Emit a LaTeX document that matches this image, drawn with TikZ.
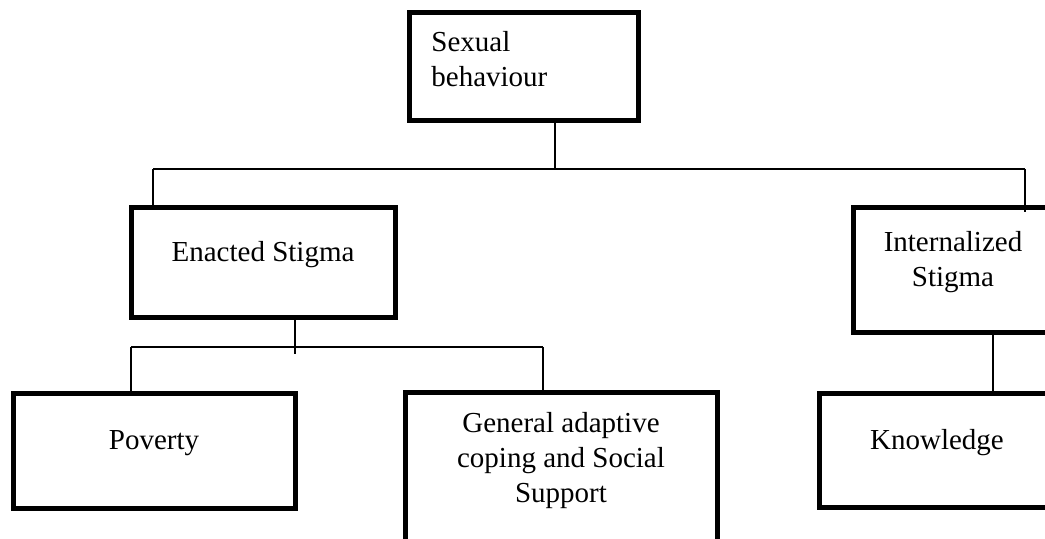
\documentclass[tikz,border=0pt]{standalone}
\usepackage{fontspec}
\setmainfont{Liberation Serif}
\usetikzlibrary{positioning}
\tikzset{
    %Define style for boxes
    stigbox/.style={
             rectangle,
             draw=black, line width=2.5pt,
             inner sep=0pt},
    %Define style for box texts
    boxtext/.style={
             inner sep=0pt,
             font=\fontsize{14.5}{17.5}\selectfont},
    % Define connector style
    link/.style={
            draw=black,
            line width=1.1pt}
}
\begin{document}
\begin{tikzpicture}[x=0.5pt, y=-0.5pt]
 \useasboundingbox (0,0) rectangle (1045,539);
 \clip (0,0) rectangle (1045,539);
 % boxes
 \node[stigbox, minimum width=114.5pt, minimum height=54pt] (sex) at (523.5,67) {};
 \node[stigbox, minimum width=132pt, minimum height=55pt] (enacted) at (263,263) {};
 \node[stigbox, minimum width=100pt, minimum height=62.5pt] (internal) at (953,270.5) {};
 \node[stigbox, minimum width=141pt, minimum height=57.5pt] (poverty) at (154,451.5) {};
 \node[stigbox, minimum width=156pt, minimum height=83.5pt] (coping) at (561,476.5) {};
 \node[stigbox, minimum width=118pt, minimum height=57pt] (knowledge) at (937,451) {};
 % texts (base = last line)
 \node[boxtext, anchor=base west, align=left] (sextext) at (431,87) {Sexual\\behaviour};
 \node[boxtext, anchor=base] (enactedtext) at (263,262) {Enacted Stigma};
 \node[boxtext, anchor=base, align=center] (internaltext) at (953,287) {Internalized\\Stigma};
 \node[boxtext, anchor=base] (povertytext) at (154,450) {Poverty};
 \node[boxtext, anchor=base, align=center] (copingtext) at (561,503) {General adaptive\\coping and Social\\Support};
 \node[boxtext, anchor=base] (knowledgetext) at (937,450) {Knowledge};
 % connectors
 \coordinate (topjoin) at (555,169);
 \coordinate (topleft) at (153,169);
 \coordinate (topright) at (1025,169);
 \coordinate (lowjoin) at (295,347);
 \coordinate (lowleft) at (131,347);
 \coordinate (lowright) at (543,347);
 \path[link] (sex.south -| topjoin) -- (topjoin)
             (topleft) -- (topright)
             (topleft) -- ([yshift=-2.5pt]enacted.north -| topleft)
             (topright) -- ([yshift=-3.5pt]internal.north -| topright)
             (enacted.south -| lowjoin) -- ([yshift=-3.5pt]lowjoin)
             (lowleft) -- (lowright)
             (lowleft) -- (poverty.north -| lowleft)
             (lowright) -- (coping.north -| lowright)
             (internal.south -| 993,0) -- ([yshift=-2pt]knowledge.north -| 993,0);
\end{tikzpicture}
\end{document}
